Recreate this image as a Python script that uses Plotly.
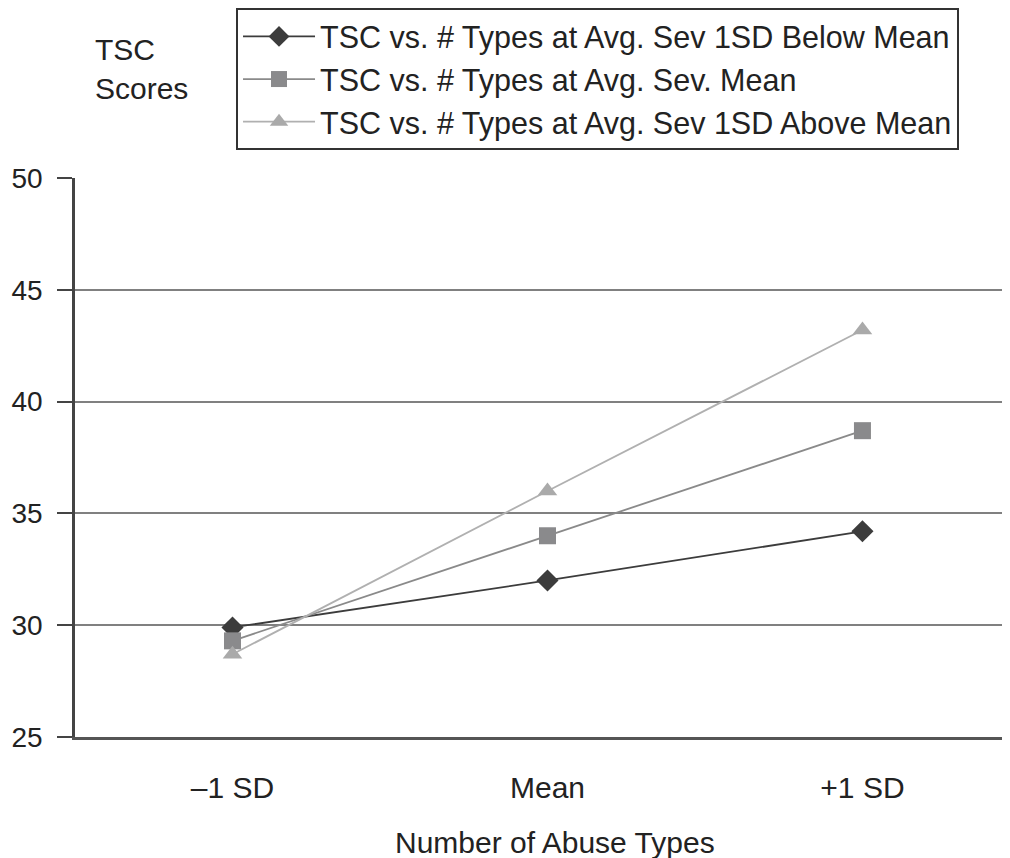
import plotly.graph_objects as go

categories = ["–1 SD", "Mean", "+1 SD"]
below_mean = [29.9, 32.0, 34.2]
at_mean = [29.3, 34.0, 38.7]
above_mean = [28.7, 36.0, 43.2]
series_names = [
    "TSC vs. # Types at Avg. Sev 1SD Below Mean",
    "TSC vs. # Types at Avg. Sev. Mean",
    "TSC vs. # Types at Avg. Sev 1SD Above Mean",
]
y_ticks = [25, 30, 35, 40, 45, 50]

FONT = "Liberation Sans, Arial, Helvetica, sans-serif"
TXT = "#222222"

fig = go.Figure()
styles = [
    (below_mean, "#3c3c3c", "#3c3c3c", "diamond", 17),
    (at_mean, "#8a8a8c", "#8a8a8a", "square", 17),
    (above_mean, "#aaaaaa", "#b0b0b0", "triangle-up", 17),
]
for (vals, mcol, lcol, sym, sz), name in zip(styles, series_names):
    fig.add_trace(go.Scatter(
        x=categories, y=vals, name=name, mode="lines+markers",
        line=dict(color=lcol, width=1.8),
        marker=dict(symbol=sym, size=sz, color=mcol, line=dict(width=0)),
    ))

fig.update_layout(
    width=994, height=850,
    margin=dict(l=67, r=0, t=170, b=121, pad=0),
    paper_bgcolor="white", plot_bgcolor="white",
    font=dict(family=FONT, size=30, color=TXT),
    showlegend=True,
    legend=dict(
        x=0.1737, y=1.304, xanchor="left", yanchor="top",
        bordercolor="#333333", borderwidth=2, bgcolor="white",
        font=dict(family=FONT, size=30.5, color=TXT),
        itemwidth=72, tracegroupgap=0,
        entrywidth=660, entrywidthmode="pixels",
    ),
    xaxis=dict(
        type="category", range=[-0.5, 2.443],
        showgrid=False, showline=True, linecolor="#555555", linewidth=3,
        ticks="", ticklabelstandoff=22,
        tickfont=dict(family=FONT, size=30, color=TXT),
        zeroline=False,
    ),
    yaxis=dict(
        range=[25, 50], tickvals=y_ticks,
        showgrid=True, gridcolor="#808080", gridwidth=1.6,
        showline=True, linecolor="#444444", linewidth=2.5,
        ticks="outside", ticklen=15, tickwidth=2, tickcolor="#444444",
        ticklabelstandoff=9,
        tickfont=dict(family=FONT, size=28, color=TXT),
        zeroline=False,
    ),
    annotations=[
        dict(text="TSC<br>Scores", xref="paper", yref="paper",
             x=0.0195, y=1.263, xanchor="left", yanchor="top",
             align="left", showarrow=False,
             font=dict(family=FONT, size=30, color=TXT)),
        dict(text="Number of Abuse Types", xref="paper", yref="paper",
             x=0.518, y=-0.1896, xanchor="center", yanchor="middle",
             showarrow=False,
             font=dict(family=FONT, size=30, color=TXT)),
    ],
)

fig.write_html("out.html")
